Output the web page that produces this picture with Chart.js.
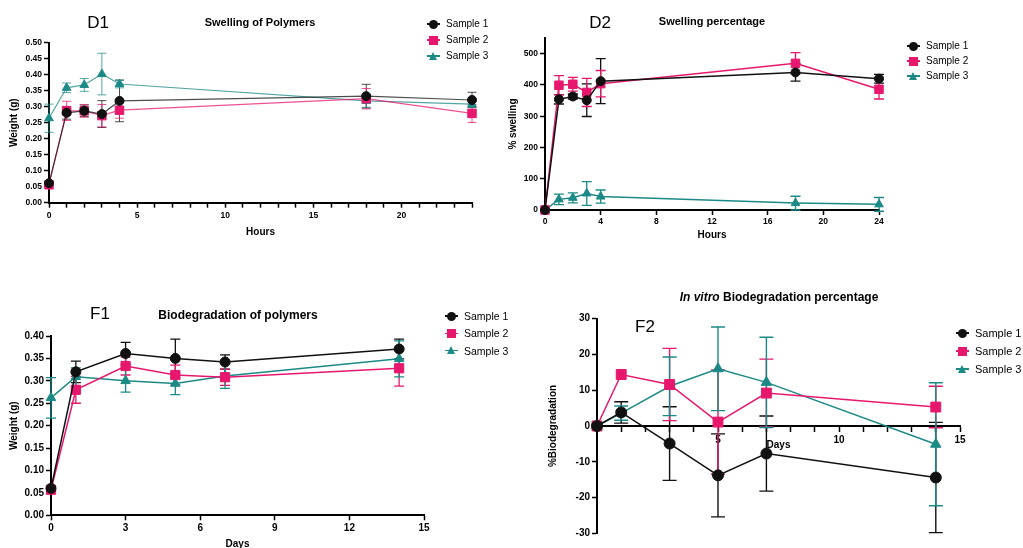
<!DOCTYPE html>
<html>
<head>
<meta charset="utf-8">
<script src="https://cdn.jsdelivr.net/npm/chart.js@4.4.1/dist/chart.umd.min.js"></script>
<style>
  html, body { margin: 0; padding: 0; background: #fff; overflow: hidden; width: 1023px; height: 548px; }
  body { position: relative; font-family: "Liberation Sans", Arial, sans-serif; color: #000; }
  canvas { position: absolute; }
  .txt { position: absolute; transform: translate(-50%, -50%); white-space: nowrap; }
  .ttl { font-weight: bold; font-size: 11px; }
  .tag { font-size: 17px; }
  .leg { position: absolute; font-size: 10px; }
</style>
</head>
<body>
<canvas id="d1" width="500" height="250" style="left:0;top:0"></canvas>
<canvas id="d2" width="400" height="250" style="left:500px;top:0"></canvas>
<canvas id="f1" width="500" height="280" style="left:0;top:280px"></canvas>
<canvas id="f2" width="523" height="268" style="left:500px;top:280px"></canvas>

<div class="txt tag" style="left:98px;top:23px">D1</div>
<div class="txt ttl" style="left:260px;top:22px">Swelling of Polymers</div>
<div class="txt tag" style="left:600px;top:23px">D2</div>
<div class="txt ttl" style="left:712px;top:21px">Swelling percentage</div>
<div class="txt tag" style="left:100px;top:314px">F1</div>
<div class="txt ttl" style="left:238px;top:315px;font-size:12px">Biodegradation of polymers</div>
<div class="txt tag" style="left:645px;top:327px">F2</div>
<div class="txt ttl" style="left:779px;top:297px;font-size:12px"><i>In vitro</i> Biodegradation percentage</div>

<script>
// shared series info
const sampleNames = ['Sample 1', 'Sample 2', 'Sample 3'];
const sampleColors = ['#111111', '#e8176e', '#1b8a86'];
const sampleShapes = ['circle', 'rect', 'triangle'];

// D1 - swelling, weight (g) vs hours
const d1Hours = [0, 1, 2, 3, 4, 18, 24];
const d1Sample1 = [0.061, 0.281, 0.287, 0.277, 0.318, 0.333, 0.321];
const d1Sample1Err = [0.005, 0.02, 0.018, 0.042, 0.065, 0.037, 0.024];
const d1Sample2 = [0.056, 0.287, 0.287, 0.272, 0.289, 0.325, 0.279];
const d1Sample2Err = [0.004, 0.03, 0.02, 0.035, 0.025, 0.032, 0.028];
const d1Sample3 = [0.264, 0.359, 0.368, 0.402, 0.371, 0.318, 0.308];
const d1Sample3Err = [0.044, 0.015, 0.02, 0.065, 0.012, 0.02, 0.01];

// D2 - % swelling vs hours
const d2Hours = [0, 1, 2, 3, 4, 18, 24];
const d2Sample1 = [0, 354, 363, 351, 412, 440, 420];
const d2Sample1Err = [0, 15, 8, 52, 72, 28, 14];
const d2Sample2 = [0, 399, 402, 376, 404, 469, 386];
const d2Sample2Err = [0, 31, 22, 45, 42, 34, 31];
const d2Sample3 = [0, 34, 39, 53, 43, 22, 18];
const d2Sample3Err = [0, 17, 16, 38, 21, 22, 22];

// F1 - biodegradation, weight (g) vs days
const f1Days = [0, 1, 3, 5, 7, 14];
const f1Sample1 = [0.060, 0.320, 0.361, 0.350, 0.342, 0.371];
const f1Sample1Err = [0.004, 0.024, 0.025, 0.043, 0.016, 0.022];
const f1Sample2 = [0.057, 0.280, 0.333, 0.313, 0.308, 0.328];
const f1Sample2Err = [0.004, 0.030, 0.020, 0.022, 0.018, 0.040];
const f1Sample3 = [0.262, 0.309, 0.300, 0.294, 0.311, 0.349];
const f1Sample3Err = [0.045, 0.020, 0.025, 0.025, 0.028, 0.040];

// F2 - % biodegradation vs days
const f2Days = [0, 1, 3, 5, 7, 14];
const f2Sample1 = [0, 3.8, -4.9, -13.8, -7.7, -14.4];
const f2Sample1Err = [0, 3, 10.3, 11.6, 10.5, 15.4];
const f2Sample2 = [0, 14.4, 11.6, 1.1, 9.2, 5.3];
const f2Sample2Err = [0, 0, 10.1, 14.6, 9.5, 5.8];
const f2Sample3 = [0, 3.6, 11.1, 16.0, 12.2, -5.1];
const f2Sample3Err = [0, 2, 8.2, 11.7, 12.6, 17.2];

Chart.defaults.font.family = '"Liberation Sans", Arial, sans-serif';

// vertical error bars with caps, drawn under the markers
const errorBars = {
  id: 'errorBars',
  beforeDatasetsDraw(chart) {
    const ctx = chart.ctx;
    const xs = chart.scales.x, ys = chart.scales.y;
    chart.data.datasets.forEach(ds => {
      if (!ds.errors) return;
      ctx.save();
      ctx.strokeStyle = ds.borderColor;
      ctx.lineWidth = ds.errWidth;
      ds.data.forEach((p, j) => {
        const e = ds.errors[j];
        if (!e) return;
        const px = xs.getPixelForValue(p.x);
        const top = ys.getPixelForValue(p.y + e);
        const bot = ys.getPixelForValue(p.y - e);
        const c = ds.capWidth;
        ctx.beginPath();
        ctx.moveTo(px, top); ctx.lineTo(px, bot);
        ctx.moveTo(px - c, top); ctx.lineTo(px + c, top);
        ctx.moveTo(px - c, bot); ctx.lineTo(px + c, bot);
        ctx.stroke();
      });
      ctx.restore();
    });
  }
};

function fade(hex, a) {
  const n = parseInt(hex.slice(1), 16);
  return `rgba(${n >> 16},${(n >> 8) & 255},${n & 255},${a})`;
}

function makeChart(id, xs, ys, errs, o) {
  const datasets = ys.map((vals, i) => ({
    label: sampleNames[i],
    data: xs.map((x, j) => ({ x: x, y: vals[j] })),
    errors: errs[i],
    borderColor: o.lineAlpha ? fade(sampleColors[i], o.lineAlpha) : sampleColors[i],
    backgroundColor: sampleColors[i],
    pointBackgroundColor: sampleColors[i],
    pointBorderColor: sampleColors[i],
    pointStyle: sampleShapes[i],
    pointRadius: o.pointSize[i],
    pointBorderWidth: 1,
    borderWidth: o.lineWidth,
    errWidth: o.errWidth,
    capWidth: o.cap,
    tension: 0,
    clip: false,
  }));
  const tickFont = { size: o.tickSize, weight: 'bold' };
  const titleFont = { size: 10, weight: 'bold', lineHeight: 1.2 };
  return new Chart(document.getElementById(id), {
    type: 'line',
    data: { datasets },
    plugins: [errorBars],
    options: {
      responsive: false,
      animation: false,
      layout: { padding: o.pad },
      plugins: { legend: { display: false }, tooltip: { enabled: false } },
      scales: {
        x: {
          type: 'linear',
          position: o.xPos || 'bottom',
          min: o.xMin, max: o.xMax,
          afterFit: s => { s.height = o.hx; },
          border: { display: true, color: '#000', width: 2 },
          grid: { drawOnChartArea: false, drawTicks: true, tickLength: 5, tickColor: '#000', tickWidth: 1.5 },
          ticks: { stepSize: o.xStep, autoSkip: false, maxRotation: 0, padding: o.xTickPad || 2, color: '#000', font: tickFont, callback: o.xFmt },
          title: { display: true, text: o.xTitle, color: '#000', font: titleFont, padding: { top: 0, bottom: o.xTitlePad } }
        },
        y: {
          type: 'linear',
          min: o.yMin, max: o.yMax,
          afterFit: s => { s.width = o.wy; },
          border: { display: true, color: '#000', width: 2 },
          grid: { drawOnChartArea: false, drawTicks: true, tickLength: 5, tickColor: '#000', tickWidth: 1.5 },
          ticks: { stepSize: o.yStep, includeBounds: false, autoSkip: false, padding: 2, color: '#000', font: tickFont, callback: o.yFmt },
          title: { display: true, text: o.yTitle, color: '#000', font: titleFont, padding: { top: o.yTitlePad, bottom: 0 } }
        }
      }
    }
  });
}

function makeLegend(x, y0, dy, size) {
  sampleNames.forEach((name, i) => {
    const row = document.createElement('div');
    row.className = 'leg';
    row.style.left = x + 'px';
    row.style.top = (y0 + i * dy - 8) + 'px';
    row.style.height = '16px';
    row.style.width = '80px';
    const col = sampleColors[i];
    let mark;
    if (sampleShapes[i] === 'triangle') {
      mark = `<div style="position:absolute;left:2px;top:3.5px;width:0;height:0;border-left:4.5px solid transparent;border-right:4.5px solid transparent;border-bottom:8px solid ${col}"></div>`;
    } else {
      const r = sampleShapes[i] === 'circle' ? '50%' : '0';
      mark = `<div style="position:absolute;left:2px;top:3.5px;width:9px;height:9px;border-radius:${r};background:${col}"></div>`;
    }
    row.innerHTML = `<div style="position:absolute;left:0;top:7.25px;width:13px;height:1.5px;background:${col}"></div>${mark}` +
      `<div style="position:absolute;left:19px;top:0;line-height:16px;font-size:${size}px">${name}</div>`;
    document.body.appendChild(row);
  });
}

makeChart('d1', d1Hours, [d1Sample1, d1Sample2, d1Sample3], [d1Sample1Err, d1Sample2Err, d1Sample3Err], {
  pad: { left: 5, right: 28, top: 42.7, bottom: 7.3 }, wy: 44, hx: 40,
  xMin: 0, xMax: 24, xStep: 1, xFmt: v => (v % 5 === 0 ? v : ''), xTickPad: 3,
  yMin: 0, yMax: 0.5, yStep: 0.05, yFmt: v => v.toFixed(2),
  xTitle: 'Hours', yTitle: 'Weight (g)', xTitlePad: 4.5, yTitlePad: 3.4,
  tickSize: 8.5, pointSize: [4.5, 6, 5], lineWidth: 1.2, errWidth: 1, cap: 4.5, lineAlpha: 0.75
});

makeChart('d2', d2Hours, [d2Sample1, d2Sample2, d2Sample3], [d2Sample1Err, d2Sample2Err, d2Sample3Err], {
  pad: { left: 5, right: 21, top: 38, bottom: 5 }, wy: 40, hx: 35,
  xMin: 0, xMax: 24, xStep: 4, xFmt: v => v,
  yMin: 0, yMax: 550, yStep: 100, yFmt: v => v,
  xTitle: 'Hours', yTitle: '% swelling', xTitlePad: 3.4, yTitlePad: 2.4,
  tickSize: 8.5, pointSize: [4.5, 6, 5], lineWidth: 1.5, errWidth: 1.3, cap: 5
});

makeChart('f1', f1Days, [f1Sample1, f1Sample2, f1Sample3], [f1Sample1Err, f1Sample2Err, f1Sample3Err], {
  pad: { left: 5, right: 76, top: 56, bottom: 4.7 }, wy: 46, hx: 40,
  xMin: 0, xMax: 15, xStep: 3, xFmt: v => v,
  yMin: 0, yMax: 0.4, yStep: 0.05, yFmt: v => v.toFixed(2),
  xTitle: 'Days', yTitle: 'Weight (g)', xTitlePad: 4.7, yTitlePad: 3.4,
  tickSize: 10, pointSize: [5, 6.5, 5.5], lineWidth: 1.5, errWidth: 1.3, cap: 5
});

makeChart('f2', f2Days, [f2Sample1, f2Sample2, f2Sample3], [f2Sample1Err, f2Sample2Err, f2Sample3Err], {
  pad: { left: 47, right: 63, top: 38.7, bottom: 14.7 }, wy: 50, hx: 14.7, xPos: { y: 0 },
  xMin: 0, xMax: 15, xStep: 1, xFmt: v => (v % 5 === 0 && v !== 0 ? v : ''), xTickPad: 3,
  yMin: -30, yMax: 30, yStep: 10, yFmt: v => v,
  xTitle: 'Days', yTitle: '%Biodegradation', xTitlePad: -10.2, yTitlePad: 0,
  tickSize: 10, pointSize: [5.5, 7, 6], lineWidth: 1.5, errWidth: 1.4, cap: 7
});

makeLegend(427, 24, 16, 10);
makeLegend(907, 46, 15, 10);
makeLegend(445, 316, 17.3, 10.5);
makeLegend(956, 333, 18, 11);
</script>
</body>
</html>
